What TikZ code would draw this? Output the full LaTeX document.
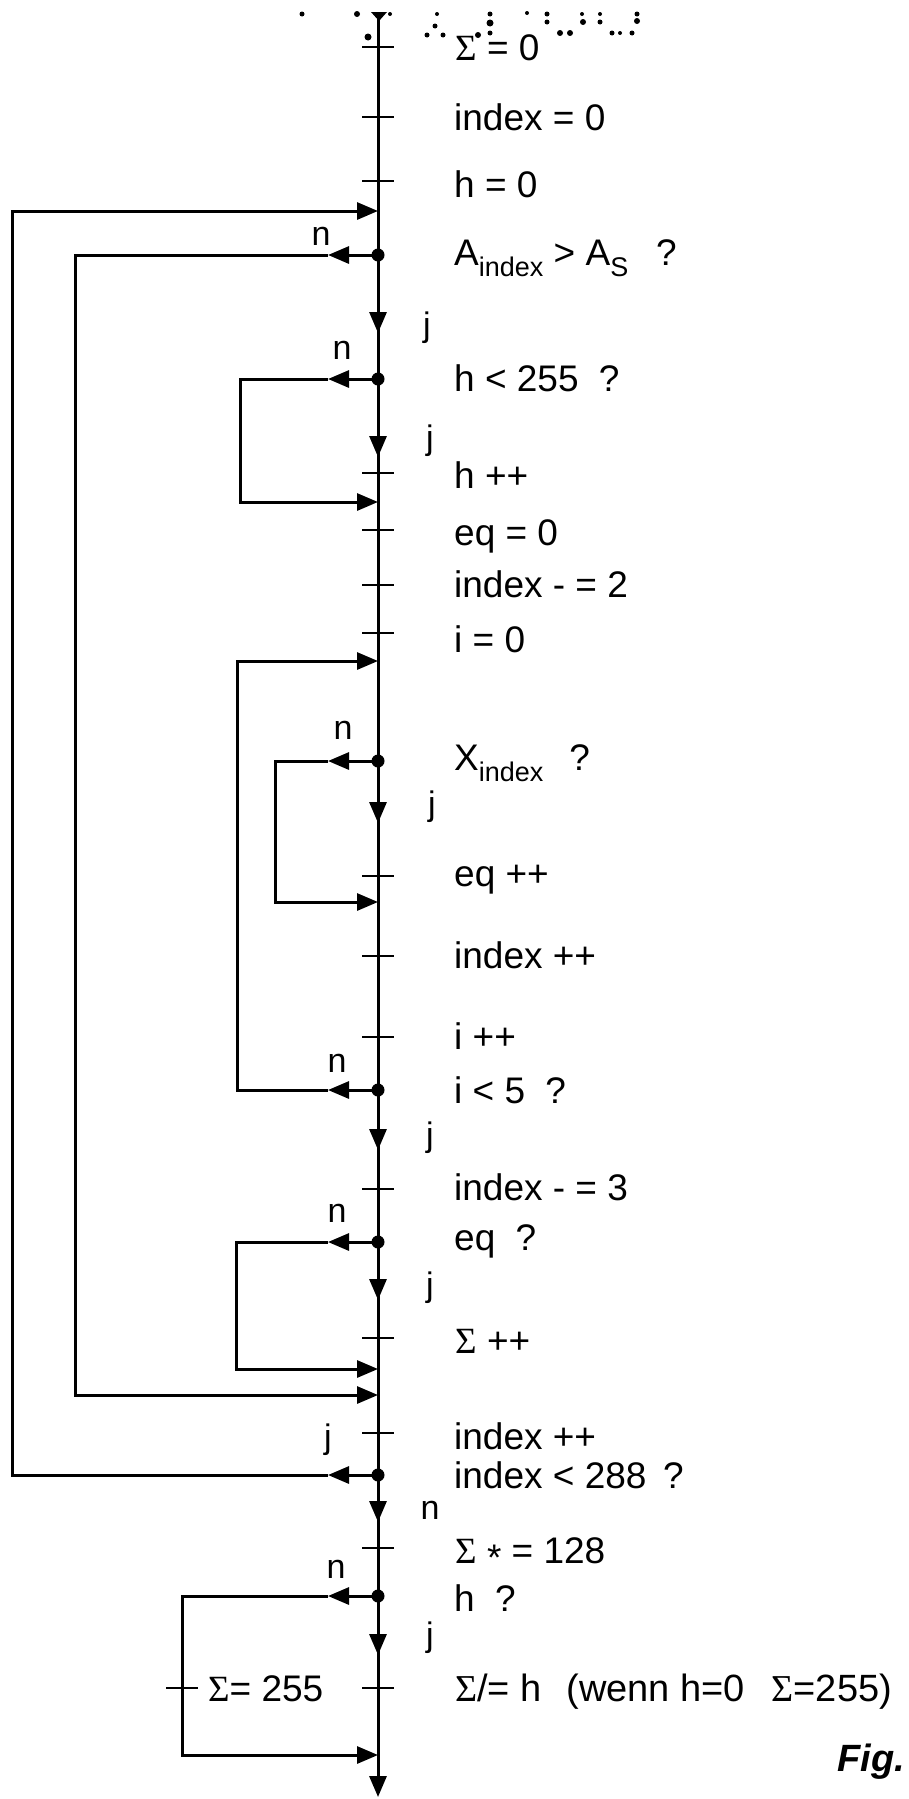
\documentclass[tikz,border=0pt]{standalone}
\usepackage{fontspec}
\setmainfont{Liberation Sans}
\newfontfamily\serf{Liberation Serif}
\usetikzlibrary{arrows.meta}
\newcommand\Sg{{\serf Σ}}
\newcommand\lowsub[1]{\raisebox{-0.32em}{\fontsize{27}{27}\selectfont #1}}
\begin{document}
\begin{tikzpicture}[x=1pt,y=-1pt,
  ln/.style={line width=3pt},
  tk/.style={line width=2.6pt},
  tip/.style={-{Triangle[length=21pt,width=17pt]}},
  txt/.style={anchor=base west,inner sep=0pt,font=\fontsize{37}{44}\selectfont},
  lbl/.style={inner sep=0pt,font=\fontsize{34}{40}\selectfont},
  noise/.style={fill=black}]
\useasboundingbox[fill=white] (0,0) rectangle (909,1799);
% axis coordinates
\coordinate (top) at (378,12);
\coordinate (bot) at (378,1797);
\foreach \n/\y in {t0/47,t1/117,t2/181,t3/473,t4/530,t5/585,t6/633,t7/876,t8/956,t9/1037,t10/1189,t11/1338,t12/1433,t13/1548,t14/1688}
  {\coordinate (\n) at (378,\y);}
\foreach \n/\y in {dA/255,dH/379,dX/761,dI/1090,dE/1242,dL/1475,dQ/1596}
  {\coordinate (\n) at (378,\y);}
\foreach \n/\y in {a1/333,a2/457,a3/823,a4/1150,a5/1300,a6/1522,a7/1655}
  {\coordinate (\n) at (378,\y); \coordinate (\n s) at (378,\y-40);}
\foreach \n/\y in {iO/211,iH/502,iI/661,iX/902,iE/1369,iA/1395,iQ/1755}
  {\coordinate (\n) at (378,\y);}
% left tips
\foreach \n/\y in {nA/255,nH/379,nX/761,nI/1090,nE/1242,nL/1475,nQ/1596}
  {\coordinate (\n) at (328,\y);}
% corners
\coordinate (cO1) at (12,1475); \coordinate (cO2) at (12,211);
\coordinate (cA1) at (75,255);  \coordinate (cA2) at (75,1395);
\coordinate (cH1) at (240,379); \coordinate (cH2) at (240,502);
\coordinate (cI1) at (237,1090);\coordinate (cI2) at (237,661);
\coordinate (cX1) at (275,761); \coordinate (cX2) at (275,902);
\coordinate (cE1) at (236,1242);\coordinate (cE2) at (236,1369);
\coordinate (cQ1) at (182,1596);\coordinate (cQ2) at (182,1755);
\coordinate (qt) at (182,1688);
% main axis
\draw[ln,tip] (top) -- (bot);
\foreach \n in {a1,a2,a3,a4,a5,a6,a7} {\draw[ln,tip] (\n s) -- (\n);}
\foreach \n in {t0,t1,t2,t3,t4,t5,t6,t7,t8,t9,t10,t11,t12,t13,t14,qt}
  {\draw[tk] ([xshift=-16pt]\n) -- ([xshift=16pt]\n);}
\foreach \n in {dA,dH,dX,dI,dE,dL,dQ} {\fill (\n) circle (6.5);}
% loops
\draw[ln,tip] (dA) -- (nA); \draw[ln,tip] (nA) -- (cA1) -- (cA2) -- (iA);
\draw[ln,tip] (dH) -- (nH); \draw[ln,tip] (nH) -- (cH1) -- (cH2) -- (iH);
\draw[ln,tip] (dX) -- (nX); \draw[ln,tip] (nX) -- (cX1) -- (cX2) -- (iX);
\draw[ln,tip] (dI) -- (nI); \draw[ln,tip] (nI) -- (cI1) -- (cI2) -- (iI);
\draw[ln,tip] (dE) -- (nE); \draw[ln,tip] (nE) -- (cE1) -- (cE2) -- (iE);
\draw[ln,tip] (dL) -- (nL); \draw[ln,tip] (nL) -- (cO1) -- (cO2) -- (iO);
\draw[ln,tip] (dQ) -- (nQ); \draw[ln,tip] (nQ) -- (cQ1) -- (cQ2) -- (iQ);
% texts
\node[txt] (s0) at (455,60) {\Sg{} = 0};
\node[txt] (s1) at (454,130) {index = 0};
\node[txt] (s2) at (454,197) {h = 0};
\node[txt] (s3) at (454,265) {A\lowsub{index} > A\lowsub{S}\hspace{0.75em}?};
\node[txt] (s4) at (454,391) {h < 255\hspace{0.55em}?};
\node[txt] (s5) at (454,488) {h ++};
\node[txt] (s6) at (454,545) {eq = 0};
\node[txt] (s7) at (454,597) {index - = 2};
\node[txt] (s8) at (454,652) {i = 0};
\node[txt] (s9) at (454,770) {X\lowsub{index}\hspace{0.7em}?};
\node[txt] (s10) at (454,886) {eq ++};
\node[txt] (s11) at (454,968) {index ++};
\node[txt] (s12) at (454,1049) {i ++};
\node[txt] (s13) at (454,1103) {i < 5\hspace{0.55em}?};
\node[txt] (s14) at (454,1200) {index - = 3};
\node[txt] (s15) at (454,1250) {eq\hspace{0.55em}?};
\node[txt] (s16) at (455,1353) {\Sg{} ++};
\node[txt] (s17) at (454,1449) {index ++};
\node[txt] (s18) at (454,1488) {index < 288\hspace{0.45em}?};
\node[txt] (s19) at (455,1563) {\Sg{} \raisebox{-0.2em}{*} = 128};
\node[txt] (s20) at (454,1611) {h\hspace{0.55em}?};
\node[txt,font=\fontsize{38}{44}\selectfont] (s21) at (455,1701) {\Sg{}/= h\hspace{0.65em}(wenn h=0\hspace{0.7em}\Sg=255)};
\node[txt] (s22) at (208,1701) {\Sg= 255};
\node[anchor=base east,inner sep=0pt,font=\fontsize{38}{44}\selectfont\bfseries\itshape] (fig) at (905,1771) {Fig.};
% branch labels
\node[lbl] (nl1) at (321,236) {n};
\node[lbl] (nl2) at (342,350) {n};
\node[lbl] (nl3) at (343,730) {n};
\node[lbl] (nl4) at (337,1063) {n};
\node[lbl] (nl5) at (337,1213) {n};
\node[lbl] (nl6) at (430,1510) {n};
\node[lbl] (nl7) at (336,1569) {n};
\node[lbl] (jl1) at (427,328) {j};
\node[lbl] (jl2) at (430,441) {j};
\node[lbl] (jl3) at (432,807) {j};
\node[lbl] (jl4) at (430,1138) {j};
\node[lbl] (jl5) at (430,1288) {j};
\node[lbl] (jl6) at (328,1440) {j};
\node[lbl] (jl7) at (430,1638) {j};
% scan noise at the top
\fill (371,12) -- (387,12) -- (379,21) -- cycle;
\foreach \x/\y/\r in {302/14/2.5,357/14/3,390/14/2,437/14/2,490/14/2.5,527/13/2,547/14/2.5,582/14/2,600/14/2,637/14/2.5,
  368/37/3.5,427/35/2.5,435/26/2.5,443/35/2.5,478/35/3,490/23/3.5,490/33/2.5,547/22/2.5,583/22/3,600/22/2.5,637/21/3,
  560/33/3,570/33/3,612/33/2.5,620/33/2,632/33/2.5}
  {\fill[noise] (\x,\y) circle (\r);}
\end{tikzpicture}
\end{document}
